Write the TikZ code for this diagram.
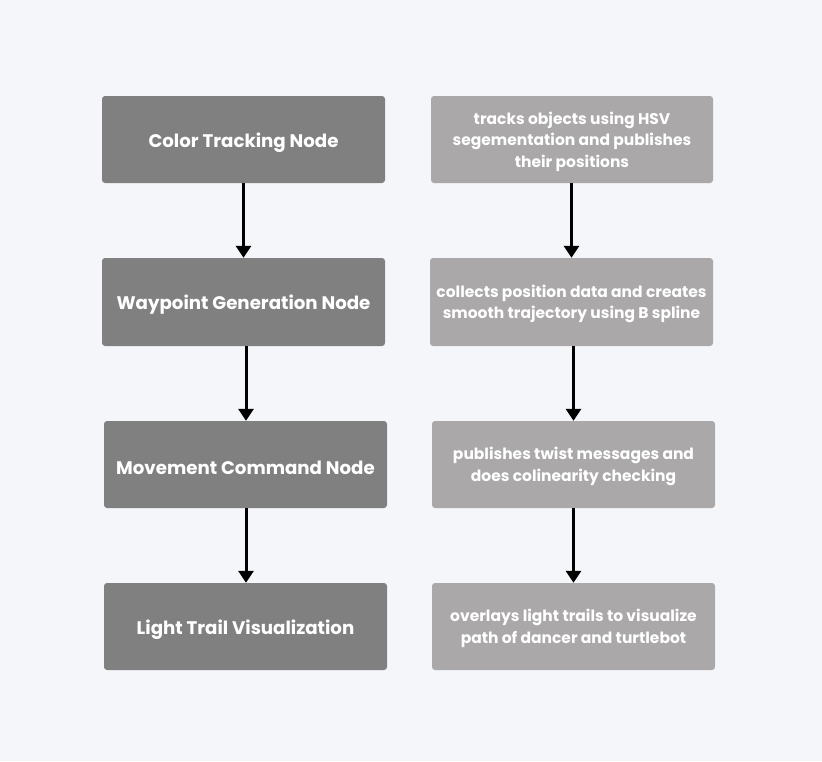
\documentclass[tikz,border=0pt]{standalone}
\usepackage{fontspec}
\setmainfont{Poppins}
\usetikzlibrary{arrows.meta}
\definecolor{bgcol}{HTML}{F5F6FA}
\definecolor{nodecol}{HTML}{808080}
\definecolor{desccol}{HTML}{AAA8A9}
\tikzset{
  nodebox/.style={fill=nodecol, rounded corners=3pt, minimum width=283pt, minimum height=87pt, inner sep=0pt,
    text=white, font=\fontsize{18.2}{21}\selectfont\bfseries, align=center,
    execute at begin node={\rule{0pt}{20.5pt}}},
  descbox/.style={fill=desccol, rounded corners=3pt, minimum width=283pt, minimum height=87pt, inner sep=0pt,
    text=white, font=\fontsize{15.5}{21.5}\selectfont\bfseries, align=center, text depth=-6pt},
  flow/.style={line width=3pt, -{Triangle[width=15pt,length=12pt]}}
}
\begin{document}
\begin{tikzpicture}[x=1pt,y=-1pt]
\fill[bgcol] (0,0) rectangle (822,761);
\useasboundingbox (0,0) rectangle (822,761);
% left column: nodes
\node[nodebox] (ctn) at (243.5,139.5) {Color Tracking Node};
\node[nodebox, minimum height=88pt] (wgn) at (243.5,302) {Waypoint Generation Node};
\node[nodebox] (mcn) at (245.5,464.5) {Movement Command Node};
\node[nodebox] (ltv) at (245.5,626.5) {Light Trail Visualization};
% right column: what each node does
\node[descbox, minimum width=282pt] (ctd) at (572,139.5) {tracks objects using HSV\\segementation and publishes\\their positions};
\node[descbox, minimum height=88pt] (wgd) at (571.5,302) {collects position data and creates\\smooth trajectory using B spline};
\node[descbox] (mcd) at (573.5,464.5) {publishes twist messages and\\does colinearity checking};
\node[descbox] (ltd) at (573.5,626.5) {overlays light trails to visualize\\path of dancer and turtlebot};
% arrows
\draw[flow] (wgn.north |- ctn.south) -- (wgn.north);
\draw[flow] ([xshift=0.5pt]mcn.north |- wgn.south) -- ([xshift=0.5pt]mcn.north);
\draw[flow] ([xshift=0.5pt]ltv.north |- mcn.south) -- ([xshift=0.5pt]ltv.north);
\draw[flow] (wgd.north |- ctd.south) -- (wgd.north);
\draw[flow] (mcd.north |- wgd.south) -- (mcd.north);
\draw[flow] (ltd.north |- mcd.south) -- (ltd.north);
\end{tikzpicture}
\end{document}
